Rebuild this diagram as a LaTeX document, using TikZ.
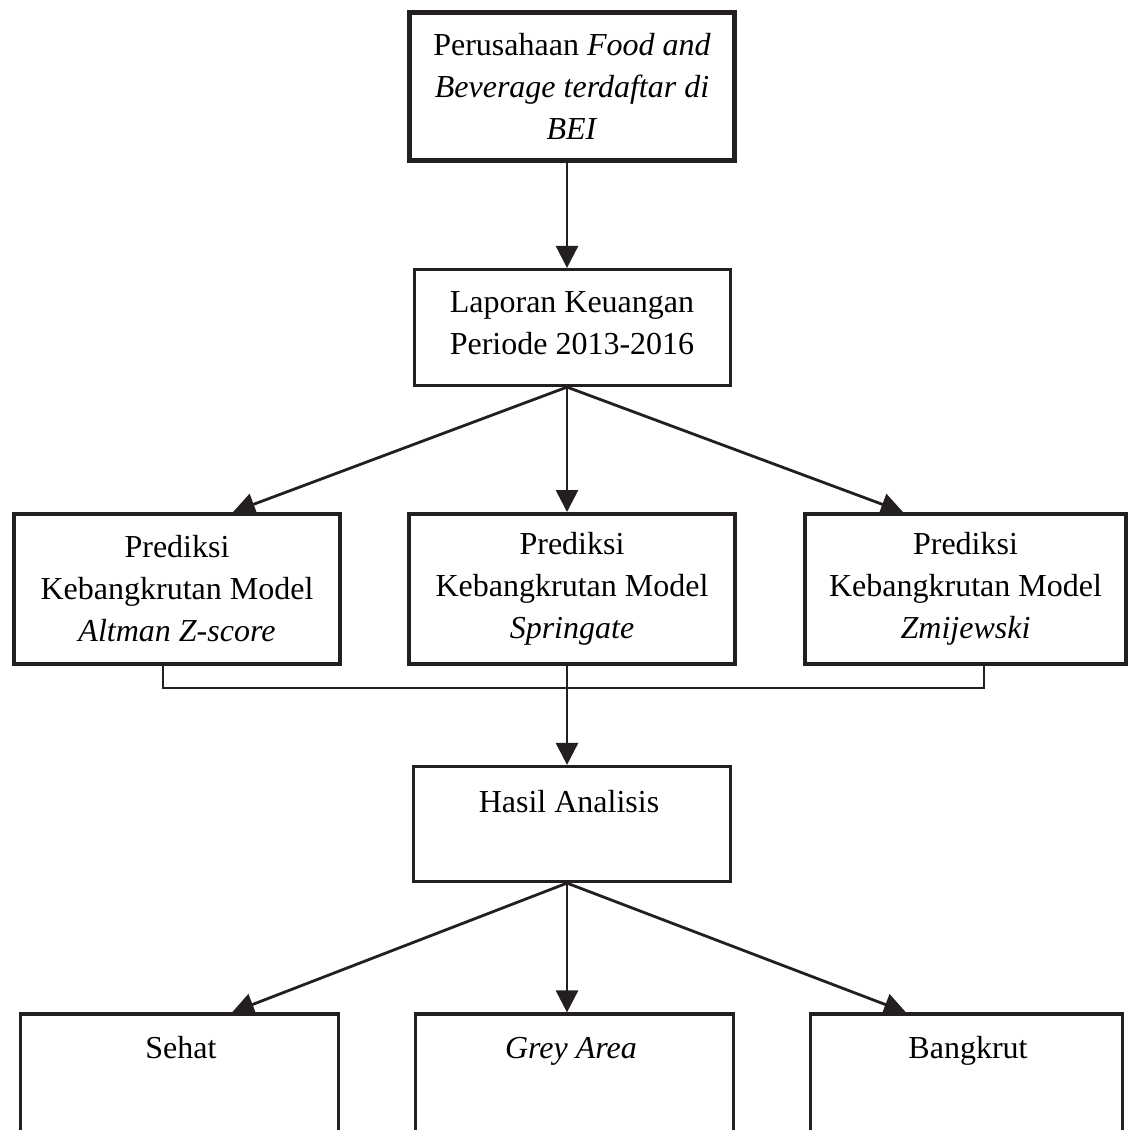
\documentclass[tikz,border=0pt]{standalone}
\usepackage{fontspec}
\setmainfont{Liberation Serif}
\usetikzlibrary{arrows.meta}
\definecolor{ink}{rgb}{0.14,0.12,0.12}
\begin{document}
\begin{tikzpicture}[x=1pt,y=-1pt,
  basefont/.style={font=\fontsize{32}{42}\selectfont},
  box/.style={draw=ink, fill=white, inner sep=0pt, align=center, basefont},
  txt/.style={inner sep=0pt, align=center, basefont},
  single/.style={txt, text height=22pt, text depth=7pt},
  conn/.style={draw=ink, line width=2.8pt},
  arr/.style={conn, -{Triangle[length=22pt,width=22pt]}}
]
\useasboundingbox (0,0) rectangle (1131,1129);
\clip (0,0) rectangle (1131,1129);
\fill[white] (0,0) rectangle (1131,1129);

% axis and helper coordinates
\coordinate (ax) at (567,0);
\coordinate (tl) at (233,0);
\coordinate (tr) at (903,0);
\coordinate (bl) at (232,0);
\coordinate (br) at (906,0);
\coordinate (cl) at (163,0);
\coordinate (cr) at (984,0);
\coordinate (jy) at (0,688);

% boxes
\node[box, line width=5pt, minimum width=325pt, minimum height=148pt] (top) at (572,86.5)
  {Perusahaan \textit{Food and}\\ \textit{Beverage terdaftar di}\\ \textit{BEI}};
\node[box, line width=3.2pt, minimum width=316pt, minimum height=116pt] (lap) at (572.5,327.5) {};
\node[txt] (laptxt) at (572,323) {Laporan Keuangan\\Periode 2013-2016};

\node[box, line width=4pt, minimum width=326pt, minimum height=150pt] (lb) at (177,589)
  {Prediksi\\Kebangkrutan Model\\\textit{Altman Z-score}};
\node[box, line width=4pt, minimum width=326pt, minimum height=150pt] (mb) at (572,589)
  {Prediksi\\Kebangkrutan Model\\\textit{Springate}};
\node[box, line width=4pt, minimum width=321pt, minimum height=150pt] (rb) at (965.5,589)
  {Prediksi\\Kebangkrutan Model\\\textit{Zmijewski}};

\node[box, line width=3.2pt, minimum width=317pt, minimum height=115pt] (hasil) at (572,824) {};
\node[single] (hasiltxt) at (569,805) {Hasil Analisis};

\node[box, line width=3.2pt, minimum width=318pt, minimum height=236pt] (sehat) at (179.5,1132) {};
\node[box, line width=3.2pt, minimum width=318pt, minimum height=236pt] (grey) at (574.5,1132) {};
\node[box, line width=3.2pt, minimum width=312pt, minimum height=236pt] (bang) at (966.5,1132) {};
\node[single] (sehattxt) at (181,1051) {Sehat};
\node[single] (greytxt) at (571,1051) {\textit{Grey Area}};
\node[single] (bangtxt) at (968,1051) {Bangkrut};

% connectors
\draw[arr] (top.south -| ax) -- (lap.north -| ax);
\draw[arr] (lap.south -| ax) -- (lb.north -| tl);
\draw[arr] (lap.south -| ax) -- (mb.north -| ax);
\draw[arr] (lap.south -| ax) -- (rb.north -| tr);

\draw[conn] (lb.south -| cl) -- (cl |- jy) -- (cr |- jy) -- (rb.south -| cr);
\draw[arr] (mb.south -| ax) -- (hasil.north -| ax);

\draw[arr] (hasil.south -| ax) -- (sehat.north -| bl);
\draw[arr] (hasil.south -| ax) -- (grey.north -| ax);
\draw[arr] (hasil.south -| ax) -- (bang.north -| br);
\end{tikzpicture}
\end{document}
